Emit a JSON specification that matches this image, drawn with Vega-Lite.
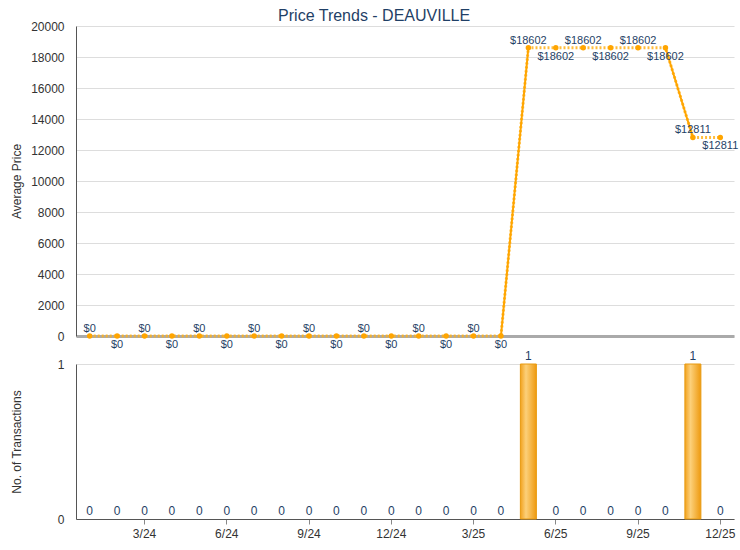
{
  "$schema": "https://vega.github.io/schema/vega-lite/v6.json",
  "background": "white",
  "padding": {"left": 10, "top": 8, "right": 5, "bottom": 5},
  "config": {
    "font": "Liberation Sans",
    "view": {"stroke": null},
    "axis": {"labelFont": "Liberation Sans", "titleFont": "Liberation Sans", "labelColor": "#333333", "titleColor": "#333333", "labelFontSize": 12, "titleFontSize": 12, "titleFontWeight": "normal", "gridColor": "#DDDDDD", "gridWidth": 1}
  },
  "title": {"text": "Price Trends - DEAUVILLE", "fontSize": 16, "fontWeight": "normal", "color": "#1F3F66", "anchor": "middle", "offset": -4},
  "datasets": {
    "monthly": [
      {"month": "2024-01-01", "price": 0, "count": 0},
      {"month": "2024-02-01", "price": 0, "count": 0},
      {"month": "2024-03-01", "price": 0, "count": 0},
      {"month": "2024-04-01", "price": 0, "count": 0},
      {"month": "2024-05-01", "price": 0, "count": 0},
      {"month": "2024-06-01", "price": 0, "count": 0},
      {"month": "2024-07-01", "price": 0, "count": 0},
      {"month": "2024-08-01", "price": 0, "count": 0},
      {"month": "2024-09-01", "price": 0, "count": 0},
      {"month": "2024-10-01", "price": 0, "count": 0},
      {"month": "2024-11-01", "price": 0, "count": 0},
      {"month": "2024-12-01", "price": 0, "count": 0},
      {"month": "2025-01-01", "price": 0, "count": 0},
      {"month": "2025-02-01", "price": 0, "count": 0},
      {"month": "2025-03-01", "price": 0, "count": 0},
      {"month": "2025-04-01", "price": 0, "count": 0},
      {"month": "2025-05-01", "price": 18602, "count": 1},
      {"month": "2025-06-01", "price": 18602, "count": 0},
      {"month": "2025-07-01", "price": 18602, "count": 0},
      {"month": "2025-08-01", "price": 18602, "count": 0},
      {"month": "2025-09-01", "price": 18602, "count": 0},
      {"month": "2025-10-01", "price": 18602, "count": 0},
      {"month": "2025-11-01", "price": 12811, "count": 1},
      {"month": "2025-12-01", "price": 12811, "count": 0}
    ],
    "jumps": [
      {"seg": "a", "month": "2025-04-01", "price": 0},
      {"seg": "a", "month": "2025-05-01", "price": 18602},
      {"seg": "b", "month": "2025-10-01", "price": 18602},
      {"seg": "b", "month": "2025-11-01", "price": 12811}
    ]
  },
  "vconcat": [
    {
      "width": 658,
      "height": 310,
      "data": {"name": "monthly"},
      "transform": [{"window": [{"op": "row_number", "as": "rn"}]}],
      "encoding": {
        "x": {
          "field": "month", "type": "ordinal",
          "scale": {"type": "band", "paddingInner": 0, "paddingOuter": 0},
          "axis": {"title": null, "labels": false, "ticks": false, "domainColor": "#AAAAAA", "domainWidth": 3, "bandPosition": 0.5,
            "values": ["2024-03-01", "2024-06-01", "2024-09-01", "2024-12-01", "2025-03-01", "2025-06-01", "2025-09-01", "2025-12-01"]}
        },
        "y": {
          "field": "price", "type": "quantitative",
          "scale": {"domain": [0, 20000], "nice": false},
          "axis": {"title": "Average Price", "titleX": -53, "values": [0, 2000, 4000, 6000, 8000, 10000, 12000, 14000, 16000, 18000, 20000], "ticks": false, "labelPadding": 12, "domainColor": "#555555", "format": "d"}
        }
      },
      "layer": [
        {"mark": {"type": "line", "color": "#FFB11A", "strokeWidth": 3, "strokeDash": [2, 2], "opacity": 0.85}},
        {
          "data": {"name": "jumps"},
          "transform": [],
          "mark": {"type": "line", "color": "#FFA500", "strokeWidth": 2},
          "encoding": {"detail": {"field": "seg", "type": "nominal"}}
        },
        {"mark": {"type": "point", "filled": true, "color": "#FFA500", "size": 30, "opacity": 1}},
        {
          "transform": [{"filter": "datum.rn % 2 == 1"}],
          "mark": {"type": "text", "baseline": "bottom", "dy": -2, "fontSize": 11, "color": "#1F3F66"},
          "encoding": {"text": {"field": "price", "type": "quantitative", "format": "$d"}}
        },
        {
          "transform": [{"filter": "datum.rn % 2 == 0"}],
          "mark": {"type": "text", "baseline": "top", "dy": 3, "fontSize": 11, "color": "#1F3F66"},
          "encoding": {"text": {"field": "price", "type": "quantitative", "format": "$d"}}
        }
      ]
    },
    {
      "width": 658,
      "height": 155,
      "data": {"name": "monthly"},
      "encoding": {
        "x": {
          "field": "month", "type": "ordinal",
          "scale": {"type": "band", "paddingInner": 0, "paddingOuter": 0},
          "axis": {"title": null, "labelAngle": 0, "labelExpr": "utcFormat(toDate(datum.value), '%-m/%y')", "ticks": true, "tickSize": 5, "tickColor": "#888888", "domainColor": "#555555", "labelPadding": 4, "bandPosition": 0.5,
            "values": ["2024-03-01", "2024-06-01", "2024-09-01", "2024-12-01", "2025-03-01", "2025-06-01", "2025-09-01", "2025-12-01"]}
        },
        "y": {
          "field": "count", "type": "quantitative",
          "scale": {"domain": [0, 1], "nice": false},
          "axis": {"title": "No. of Transactions", "titleX": -53, "values": [0, 1], "ticks": false, "labelPadding": 12, "domainColor": "#555555", "format": "d"}
        }
      },
      "layer": [
        {
          "transform": [{"filter": "datum.count > 0"}],
          "mark": {"type": "bar", "width": 16, "stroke": "#E89A10", "strokeWidth": 1,
            "color": {"gradient": "linear", "x1": 0, "x2": 1, "y1": 0, "y2": 0, "stops": [{"offset": 0, "color": "#F2A21E"}, {"offset": 0.35, "color": "#FCD07A"}, {"offset": 1, "color": "#EE9A10"}]}}
        },
        {
          "mark": {"type": "text", "baseline": "bottom", "dy": -1, "fontSize": 12, "color": "#1F3F66"},
          "encoding": {"text": {"field": "count", "type": "quantitative"}}
        }
      ]
    }
  ],
  "spacing": 28,
  "bounds": "flush"
}
